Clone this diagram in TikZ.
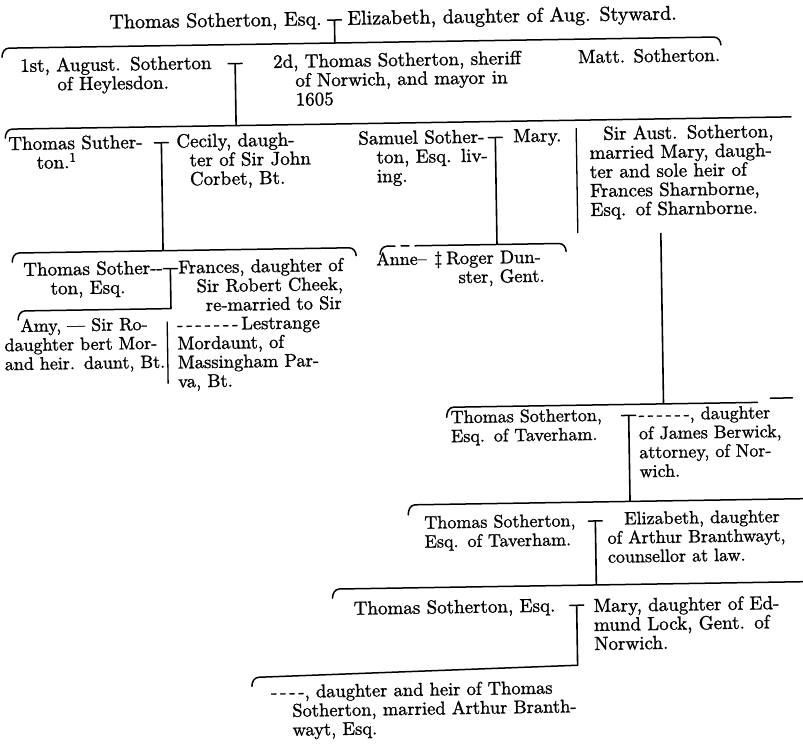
\documentclass[tikz,border=0pt]{standalone}
\DeclareFontFamily{TU}{lmten}{}
\DeclareFontShape{TU}{lmten}{m}{n}{<-> "[lmroman10-regular]:embolden=1.2"}{}
\newcommand\fs[1]{\fontfamily{lmten}\fontsize{#1}{19}\selectfont\lineskiplimit=-30pt\relax}
\newcommand\jl[1]{\makebox[\linewidth][s]{#1}}
\newcommand\ji[2]{\hspace*{#1}\makebox[\dimexpr\linewidth-#1\relax][s]{#2}}
\newcommand\hy{\mbox{-}}
\newcommand\dsh{\mbox{-}\kern3pt}
\newcommand\tmark[4]{%
  \coordinate (#1) at (#2,-#3);
  \coordinate (#1l) at (#2-7,-#3);
  \coordinate (#1r) at (#2+7,-#3);
  \coordinate (#1b) at (#2,-#4);
  \draw[ln] (#1l) -- (#1r);
  \draw[stem] (#1) -- (#1b);}
\begin{document}
\begin{tikzpicture}[x=1pt,y=1pt,
  txt/.style={inner sep=0pt,outer sep=0pt,anchor=base west,font=\fs{19}},
  blk/.style={txt,text width=#1,align=left},
  ln/.style={line width=1.5pt,line cap=round},
  stem/.style={line width=1.6pt},
  sepl/.style={line width=1.3pt}]
\fill[white] (0,0) rectangle (803,-744);
\useasboundingbox (0,0) rectangle (803,-744);
\begin{scope}[rotate around={0.9:(401.5,-372)},transform shape]
% ---- generation 1
\node[txt,font=\fs{20}] (ts) at (115,-24) {Thomas Sotherton, Esq.};
\node[txt,font=\fs{20}] (el) at (353,-24) {Elizabeth, daughter of Aug. Styward.};
\tmark{ta}{340}{19}{42}
\coordinate (b1a) at (7,-51); \coordinate (b1b) at (14,-42);
\coordinate (b1c) at (719,-42); \coordinate (b1d) at (726,-50);
\draw[ln] (b1a) to[out=90,in=180] (b1b) -- (b1c) to[out=0,in=90] (b1d);
% ---- generation 2
\node[blk=210pt] (au) at (25,-66) {\jl{1st, August. Sotherton}\\\hspace*{37pt}of Heylesdon.};
\tmark{tb}{240}{61}{123}
\node[blk=248pt] (td) at (278,-66) {\jl{2d, Thomas Sotherton, sheriff}\\\ji{22pt}{of Norwich, and mayor in}\\\hspace*{22pt}1605};
\node[txt] (mt) at (583,-66) {Matt. Sotherton.};
\coordinate (b2a) at (9,-132); \coordinate (b2b) at (16,-123); \coordinate (b2c) at (795,-123);
\draw[ln] (b2a) to[out=90,in=180] (b2b) -- (b2c);
% ---- generation 3
\node[blk=150pt] (tsu) at (12,-144) {Thomas Suther-\\\hspace*{28pt}ton.\textsuperscript{1}};
\tmark{tc}{165}{139}{247}
\node[blk=136pt] (ce) at (180,-144) {\jl{Cecily, daugh-}\\\hspace*{13pt}ter of Sir John\\\hspace*{13pt}Corbet, Bt.};
\node[blk=130pt] (sa) at (362,-144) {Samuel Sother-\\\hspace*{18pt}ton, Esq. liv-\\\hspace*{18pt}ing.};
\tmark{td}{499}{139}{246}
\node[txt] (ma) at (517,-144) {Mary.};
\coordinate (s1a) at (580,-131); \coordinate (s1b) at (580,-236);
\draw[sepl] (s1a) -- (s1b);
\node[blk=204pt] (sir) at (593,-143) {\ji{14pt}{Sir Aust. Sotherton,}\\\jl{married Mary, daugh-}\\\jl{ter and sole heir of}\\Frances Sharnborne,\\Esq. of Sharnborne.};
\coordinate (sa1) at (663,-237); \coordinate (sa2) at (663,-408);
\draw[stem] (sa1) -- (sa2);
% bracket under Thomas Suther-
\coordinate (b3a) at (14,-256); \coordinate (b3b) at (21,-247);
\coordinate (b3c) at (351,-247); \coordinate (b3d) at (358,-255);
\draw[ln] (b3a) to[out=90,in=180] (b3b) -- (b3c) to[out=0,in=90] (b3d);
% bracket under Samuel
\coordinate (b4a) at (382,-254); \coordinate (b4b) at (389,-246);
\coordinate (b4e) at (424,-246);
\coordinate (b4c) at (561,-246); \coordinate (b4d) at (568,-254);
\draw[ln] (b4a) to[out=90,in=180] (b4b);
\draw[ln,dash pattern=on 8pt off 6pt] (b4b) -- (b4e);
\draw[ln] (b4e) -- (b4c) to[out=0,in=90] (b4d);
% ---- generation 4
\node[blk=150pt] (tso) at (25,-270) {Thomas Sother-\hy\\\hspace*{27pt}ton, Esq.};
\tmark{te}{172}{265}{305}
\node[blk=172pt,font=\fs{18.5}] (fr) at (178,-270) {\hspace*{2pt}Frances, daughter of\\\hspace*{20pt}Sir Robert Cheek,\\\hspace*{29pt}re-married to Sir\\\dsh\dsh\dsh\dsh\dsh\dsh\dsh Lestrange\\\jl{Mordaunt, of}\\\jl{Massingham Par-}\\va, Bt.};
\coordinate (b5a) at (19,-314); \coordinate (b5b) at (26,-305);
\draw[ln] (b5a) to[out=90,in=180] (b5b) -- (teb);
\node[blk=157pt,font=\fs{18}] (amy) at (5,-326) {\ji{16pt}{Amy, \textemdash\ Sir Ro-}\\\jl{daughter bert Mor-}\\\jl{and heir. daunt, Bt.}};
\coordinate (s2a) at (168,-318); \coordinate (s2b) at (168,-380);
\draw[sepl] (s2a) -- (s2b);
\node[txt,font=\fs{18}] (an) at (378,-265) {Anne\textendash};
\node[txt,font=\fs{18.5}] (dg) at (436,-265) {\ddag};
\node[blk=110pt,font=\fs{18.5}] (ro) at (448,-265) {Roger Dun-\\\hspace*{12pt}ster, Gent.};
% ---- Taverham line
\coordinate (b6a) at (446,-418); \coordinate (b6b) at (453,-408); \coordinate (b6c) at (757,-408);
\draw[ln] (b6a) to[out=90,in=180] (b6b) -- (b6c);
\coordinate (x1) at (770,-404); \coordinate (x2) at (792,-404);
\draw[ln] (x1) -- (x2);
\node[blk=170pt,font=\fs{18}] (tv1) at (450,-424) {Thomas Sotherton,\\Esq. of Taverham.};
\tmark{tf}{628}{419}{505}
\node[blk=157pt,font=\fs{18}] (jb) at (638,-424) {\jl{\dsh\dsh\dsh\dsh\dsh\hy, daughter}\\\jl{of James Berwick,}\\\jl{attorney, of Nor-}\\wich.};
\coordinate (b7a) at (406,-515); \coordinate (b7b) at (413,-505); \coordinate (b7c) at (803,-505);
\draw[ln] (b7a) to[out=90,in=180] (b7b) -- (b7c);
\node[blk=170pt,font=\fs{18}] (tv2) at (422,-529) {Thomas Sotherton,\\Esq. of Taverham.};
\tmark{tg}{593}{524}{588}
\node[blk=190pt,font=\fs{18}] (eb) at (605,-528) {\ji{17pt}{Elizabeth, daughter}\\\jl{of Arthur Branthwayt,}\\counsellor at law.};
\coordinate (b8a) at (329,-597); \coordinate (b8b) at (336,-588); \coordinate (b8c) at (803,-588);
\draw[ln] (b8a) to[out=90,in=180] (b8b) -- (b8c);
\node[txt] (tm) at (350,-614) {Thomas Sotherton, Esq.};
\tmark{th}{573}{608}{668}
\node[blk=214pt] (my) at (590,-615) {\jl{Mary, daughter of Ed-}\\\jl{mund Lock, Gent. of}\\Norwich.};
\coordinate (b9a) at (247,-684); \coordinate (b9b) at (254,-675);
\draw[ln] (b9a) to[out=90,in=180] (b9b) -- (thb);
\node[blk=316pt,font=\fs{18.5}] (dh) at (266,-696) {\jl{\dsh\dsh\dsh\hy, daughter and heir of Thomas}\\\ji{21pt}{Sotherton, married Arthur Branth-}\\\hspace*{21pt}wayt, Esq.};
\end{scope}
\end{tikzpicture}
\end{document}
